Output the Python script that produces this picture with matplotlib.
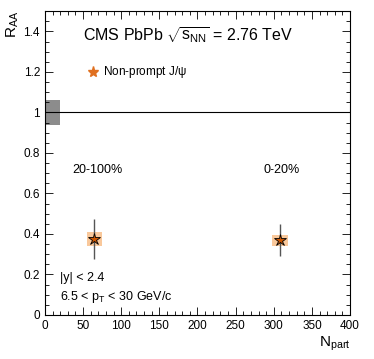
import matplotlib

matplotlib.use('Agg')
import matplotlib.pyplot as plt
from matplotlib.patches import Rectangle
from matplotlib.ticker import MultipleLocator

plt.rcParams['font.family'] = ['Liberation Sans', 'DejaVu Sans']
plt.rcParams['mathtext.fontset'] = 'custom'
plt.rcParams['mathtext.rm'] = 'Liberation Sans'
plt.rcParams['mathtext.it'] = 'Liberation Sans'

npart = [65, 308]
raa = [0.375, 0.37]
stat_err = [0.098, 0.08]
syst_err = [0.035, 0.027]
npart_halfwidth = [10, 10]
centrality = ["20-100%", "0-20%"]
norm_unc = 0.06

fig = plt.figure(figsize=(3.74, 3.59), dpi=100)
ax = fig.add_axes([0.120, 0.1226, 0.816, 0.8464])

ax.set_xlim(0, 400)
ax.set_ylim(0, 1.5)

# global uncertainty box and unity line
ax.add_patch(Rectangle((0, 1 - norm_unc), 20, 2 * norm_unc, color='#8c8c8c', lw=0))
ax.axhline(1, color='black', lw=0.8)

for x, y, s, hw in zip(npart, raa, syst_err, npart_halfwidth):
    ax.add_patch(Rectangle((x - hw, y - s), 2 * hw, 2 * s, color='#f9c89b', lw=0))

ax.errorbar(npart, raa, yerr=stat_err, fmt='none', ecolor='#555555', elinewidth=1.0, capsize=0)
ax.plot(npart, raa, linestyle='none', marker='*', markersize=9, markerfacecolor='#cc5500',
        markeredgecolor='black', markeredgewidth=0.6)

ax.xaxis.set_major_locator(MultipleLocator(50))
ax.xaxis.set_minor_locator(MultipleLocator(10))
ax.yaxis.set_minor_locator(MultipleLocator(0.05))
ax.set_yticks([0, 0.2, 0.4, 0.6, 0.8, 1.0, 1.2, 1.4])
ax.set_yticklabels(["0", "0.2", "0.4", "0.6", "0.8", "1", "1.2", "1.4"])
ax.tick_params(which='both', direction='in', top=True, right=True, labelsize=8.5, width=0.6)
ax.tick_params(which='major', length=6)
ax.tick_params(which='minor', length=3)
for sp in ax.spines.values():
    sp.set_linewidth(0.8)

ax.set_xlabel(r'N$_{\rm part}$', fontsize=11, loc='right', labelpad=2)
ax.set_ylabel(r'R$_{\rm AA}$', fontsize=11, loc='top', labelpad=2)

ax.text(0.125, 0.921, r'CMS PbPb $\sqrt{s_{\rm NN}}$ = 2.76 TeV', transform=ax.transAxes,
        fontsize=11.5, va='center')
ax.plot([0.158], [0.80], transform=ax.transAxes, marker='*', markersize=8, color='#e07020',
        linestyle='none')
ax.text(0.19, 0.80, r'Non-prompt J/$\psi$', transform=ax.transAxes, fontsize=8.5, va='center')

ax.text(0.09, 0.477, centrality[0], transform=ax.transAxes, fontsize=9, va='center')
ax.text(0.715, 0.477, centrality[1], transform=ax.transAxes, fontsize=9, va='center')
ax.text(0.05, 0.123, '|y| < 2.4', transform=ax.transAxes, fontsize=9, va='center')
ax.text(0.05, 0.06, r'6.5 < p$_{\rm T}$ < 30 GeV/c', transform=ax.transAxes, fontsize=9,
        va='center')

fig.savefig('out.png', dpi=100)
